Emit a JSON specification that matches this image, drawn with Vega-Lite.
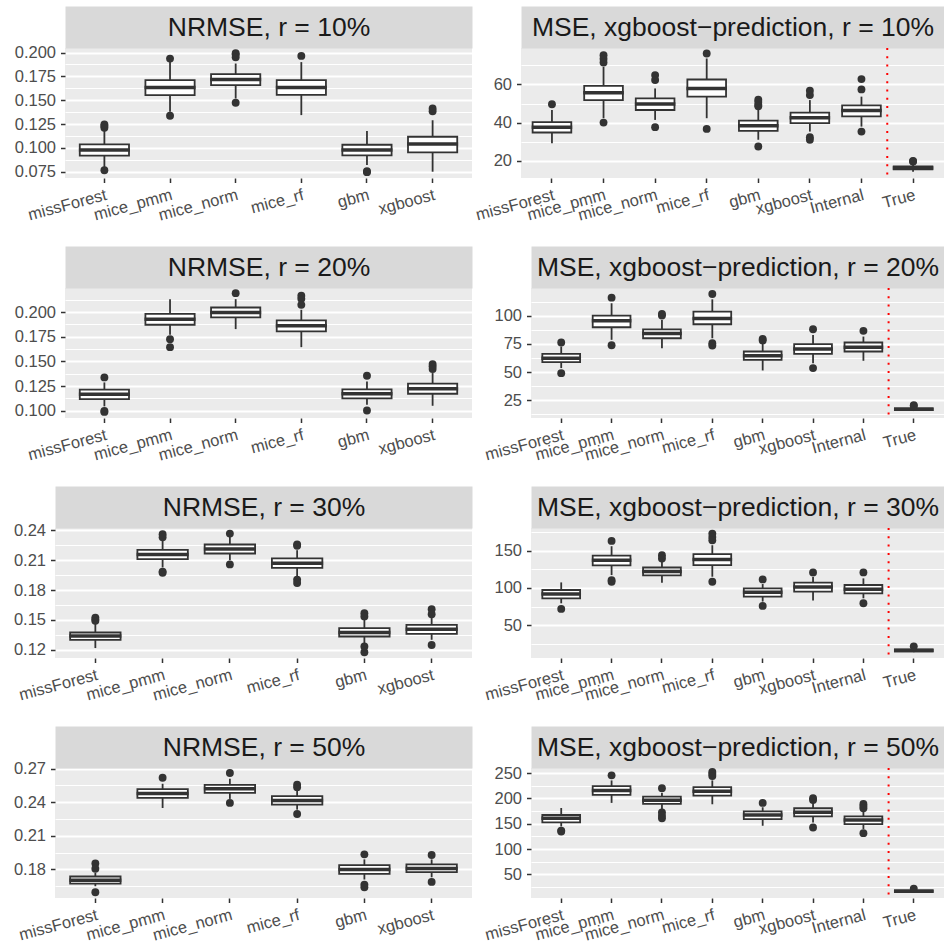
{
  "$schema": "https://vega.github.io/schema/vega-lite/v6.json",
  "padding": {"left": 0, "top": 6, "right": 0, "bottom": 0},
  "background": "white",
  "datasets": {
    "boxes": [
      {"panel":"n10","method":"missForest","lo":0.080,"q1":0.0918,"med":0.0977,"q3":0.1036,"hi":0.119},
      {"panel":"n10","method":"mice_pmm","lo":0.1378,"q1":0.1553,"med":0.1633,"q3":0.1710,"hi":0.190},
      {"panel":"n10","method":"mice_norm","lo":0.1518,"q1":0.1658,"med":0.1717,"q3":0.1773,"hi":0.1885},
      {"panel":"n10","method":"mice_rf","lo":0.1344,"q1":0.1557,"med":0.1633,"q3":0.1710,"hi":0.190},
      {"panel":"n10","method":"gbm","lo":0.082,"q1":0.0921,"med":0.0977,"q3":0.1033,"hi":0.1176},
      {"panel":"n10","method":"xgboost","lo":0.075,"q1":0.0953,"med":0.104,"q3":0.1117,"hi":0.129},
      {"panel":"m10","method":"missForest","lo":29.2,"q1":34.8,"med":37.6,"q3":40.2,"hi":46.6},
      {"panel":"m10","method":"mice_pmm","lo":42.3,"q1":51.8,"med":55.7,"q3":59.3,"hi":69.2},
      {"panel":"m10","method":"mice_norm","lo":41.4,"q1":46.6,"med":49.7,"q3":52.7,"hi":57.9},
      {"panel":"m10","method":"mice_rf","lo":42.3,"q1":53.6,"med":57.9,"q3":62.6,"hi":73.6},
      {"panel":"m10","method":"gbm","lo":31.0,"q1":35.7,"med":38.3,"q3":41.0,"hi":46.6},
      {"panel":"m10","method":"xgboost","lo":35.3,"q1":39.7,"med":42.6,"q3":45.2,"hi":51.8},
      {"panel":"m10","method":"Internal","lo":37.9,"q1":43.3,"med":46.3,"q3":49.0,"hi":53.6},
      {"panel":"m10","method":"True","lo":14.3,"q1":15.5,"med":16.2,"q3":17.0,"hi":18.6},
      {"panel":"n20","method":"missForest","lo":0.1044,"q1":0.1118,"med":0.1166,"q3":0.1213,"hi":0.1287},
      {"panel":"n20","method":"mice_pmm","lo":0.177,"q1":0.1872,"med":0.1929,"q3":0.1983,"hi":0.2132},
      {"panel":"n20","method":"mice_norm","lo":0.1828,"q1":0.1946,"med":0.1997,"q3":0.2047,"hi":0.2132},
      {"panel":"n20","method":"mice_rf","lo":0.1645,"q1":0.1804,"med":0.1861,"q3":0.1916,"hi":0.2024},
      {"panel":"n20","method":"gbm","lo":0.1061,"q1":0.1125,"med":0.1172,"q3":0.1216,"hi":0.1297},
      {"panel":"n20","method":"xgboost","lo":0.105,"q1":0.1172,"med":0.1223,"q3":0.1274,"hi":0.1382},
      {"panel":"m20","method":"missForest","lo":53.5,"q1":58.8,"med":62.3,"q3":66.2,"hi":72.7},
      {"panel":"m20","method":"mice_pmm","lo":78.7,"q1":89.9,"med":95.8,"q3":100.3,"hi":111.3},
      {"panel":"m20","method":"mice_norm","lo":71.2,"q1":80.1,"med":84.3,"q3":88.1,"hi":96.4},
      {"panel":"m20","method":"mice_rf","lo":80.1,"q1":92.6,"med":97.6,"q3":103.9,"hi":114.8},
      {"panel":"m20","method":"gbm","lo":51.4,"q1":60.9,"med":64.4,"q3":68.3,"hi":75.7},
      {"panel":"m20","method":"xgboost","lo":57.9,"q1":66.2,"med":70.6,"q3":74.8,"hi":83.1},
      {"panel":"m20","method":"Internal","lo":60.0,"q1":68.3,"med":72.1,"q3":76.3,"hi":81.6},
      {"panel":"m20","method":"True","lo":15.2,"q1":16.0,"med":16.7,"q3":17.6,"hi":18.6},
      {"panel":"n30","method":"missForest","lo":0.1217,"q1":0.130,"med":0.1337,"q3":0.1373,"hi":0.1467},
      {"panel":"n30","method":"mice_pmm","lo":0.2027,"q1":0.211,"med":0.2157,"q3":0.2203,"hi":0.230},
      {"panel":"n30","method":"mice_norm","lo":0.210,"q1":0.2167,"med":0.2213,"q3":0.2257,"hi":0.2333},
      {"panel":"n30","method":"mice_rf","lo":0.1933,"q1":0.2023,"med":0.207,"q3":0.2117,"hi":0.220},
      {"panel":"n30","method":"gbm","lo":0.125,"q1":0.1333,"med":0.1373,"q3":0.1417,"hi":0.150},
      {"panel":"n30","method":"xgboost","lo":0.130,"q1":0.136,"med":0.1407,"q3":0.145,"hi":0.1533},
      {"panel":"m30","method":"missForest","lo":79.3,"q1":86.0,"med":91.8,"q3":97.1,"hi":107.3},
      {"panel":"m30","method":"mice_pmm","lo":117.1,"q1":130.0,"med":137.1,"q3":143.3,"hi":155.8},
      {"panel":"m30","method":"mice_norm","lo":106.9,"q1":116.7,"med":122.0,"q3":127.3,"hi":137.1},
      {"panel":"m30","method":"mice_rf","lo":114.9,"q1":130.4,"med":138.0,"q3":145.1,"hi":157.1},
      {"panel":"m30","method":"gbm","lo":81.6,"q1":88.2,"med":94.0,"q3":99.3,"hi":105.1},
      {"panel":"m30","method":"xgboost","lo":82.9,"q1":94.9,"med":101.1,"q3":106.9,"hi":114.9},
      {"panel":"m30","method":"Internal","lo":86.0,"q1":92.7,"med":98.0,"q3":103.8,"hi":112.7},
      {"panel":"m30","method":"True","lo":13.8,"q1":15.0,"med":16.2,"q3":17.5,"hi":19.0},
      {"panel":"n50","method":"missForest","lo":0.165,"q1":0.1674,"med":0.1704,"q3":0.1737,"hi":0.177},
      {"panel":"n50","method":"mice_pmm","lo":0.2349,"q1":0.2439,"med":0.2478,"q3":0.2517,"hi":0.2565},
      {"panel":"n50","method":"mice_norm","lo":0.243,"q1":0.2484,"med":0.252,"q3":0.2556,"hi":0.261},
      {"panel":"n50","method":"mice_rf","lo":0.2334,"q1":0.2379,"med":0.2415,"q3":0.2454,"hi":0.2505},
      {"panel":"n50","method":"gbm","lo":0.171,"q1":0.1761,"med":0.180,"q3":0.1839,"hi":0.189},
      {"panel":"n50","method":"xgboost","lo":0.173,"q1":0.1776,"med":0.1809,"q3":0.1845,"hi":0.189},
      {"panel":"m50","method":"missForest","lo":144.7,"q1":152.6,"med":160.6,"q3":167.2,"hi":181.1},
      {"panel":"m50","method":"mice_pmm","lo":191.1,"q1":207.0,"med":215.6,"q3":224.2,"hi":235.4},
      {"panel":"m50","method":"mice_norm","lo":179.1,"q1":189.1,"med":196.4,"q3":203.6,"hi":210.9},
      {"panel":"m50","method":"mice_rf","lo":188.4,"q1":205.6,"med":214.2,"q3":222.2,"hi":235.4},
      {"panel":"m50","method":"gbm","lo":146.0,"q1":159.3,"med":167.2,"q3":174.5,"hi":182.5},
      {"panel":"m50","method":"xgboost","lo":152.6,"q1":164.6,"med":172.5,"q3":180.5,"hi":191.1},
      {"panel":"m50","method":"Internal","lo":139.4,"q1":149.3,"med":157.3,"q3":164.6,"hi":176.5},
      {"panel":"m50","method":"True","lo":13.5,"q1":15.5,"med":17.0,"q3":18.5,"hi":20.5}
    ],
    "outliers": [
      {"panel":"n10","method":"missForest","value":0.0765},{"panel":"n10","method":"missForest","value":0.121},{"panel":"n10","method":"missForest","value":0.123},{"panel":"n10","method":"missForest","value":0.1245},
      {"panel":"n10","method":"mice_pmm","value":0.1937},{"panel":"n10","method":"mice_pmm","value":0.1337},
      {"panel":"n10","method":"mice_norm","value":0.1993},{"panel":"n10","method":"mice_norm","value":0.1979},{"panel":"n10","method":"mice_norm","value":0.195},{"panel":"n10","method":"mice_norm","value":0.1473},
      {"panel":"n10","method":"mice_rf","value":0.1965},
      {"panel":"n10","method":"gbm","value":0.0755},{"panel":"n10","method":"gbm","value":0.0745},
      {"panel":"n10","method":"xgboost","value":0.1414},{"panel":"n10","method":"xgboost","value":0.1385},
      {"panel":"m10","method":"missForest","value":49.6},
      {"panel":"m10","method":"mice_pmm","value":75.3},{"panel":"m10","method":"mice_pmm","value":73.4},{"panel":"m10","method":"mice_pmm","value":71.5},{"panel":"m10","method":"mice_pmm","value":40.0},
      {"panel":"m10","method":"mice_norm","value":64.9},{"panel":"m10","method":"mice_norm","value":62.3},{"panel":"m10","method":"mice_norm","value":37.6},
      {"panel":"m10","method":"mice_rf","value":76.2},{"panel":"m10","method":"mice_rf","value":36.7},
      {"panel":"m10","method":"gbm","value":52.0},{"panel":"m10","method":"gbm","value":50.8},{"panel":"m10","method":"gbm","value":49.3},{"panel":"m10","method":"gbm","value":48.6},{"panel":"m10","method":"gbm","value":27.5},
      {"panel":"m10","method":"xgboost","value":56.7},{"panel":"m10","method":"xgboost","value":54.4},{"panel":"m10","method":"xgboost","value":32.3},{"panel":"m10","method":"xgboost","value":31.0},
      {"panel":"m10","method":"Internal","value":62.8},{"panel":"m10","method":"Internal","value":57.4},{"panel":"m10","method":"Internal","value":35.3},
      {"panel":"m10","method":"True","value":19.6},{"panel":"m10","method":"True","value":19.9},
      {"panel":"n20","method":"missForest","value":0.1338},{"panel":"n20","method":"missForest","value":0.0998},{"panel":"n20","method":"missForest","value":0.0988},
      {"panel":"n20","method":"mice_pmm","value":0.1726},{"panel":"n20","method":"mice_pmm","value":0.1645},
      {"panel":"n20","method":"mice_norm","value":0.2193},
      {"panel":"n20","method":"mice_rf","value":0.2166},{"panel":"n20","method":"mice_rf","value":0.2135},{"panel":"n20","method":"mice_rf","value":0.2074},
      {"panel":"n20","method":"gbm","value":0.1355},{"panel":"n20","method":"gbm","value":0.1002},
      {"panel":"n20","method":"xgboost","value":0.1473},{"panel":"n20","method":"xgboost","value":0.145},{"panel":"n20","method":"xgboost","value":0.1422},
      {"panel":"m20","method":"missForest","value":76.3},{"panel":"m20","method":"missForest","value":49.0},
      {"panel":"m20","method":"mice_pmm","value":116.3},{"panel":"m20","method":"mice_pmm","value":73.9},
      {"panel":"m20","method":"mice_norm","value":101.8},{"panel":"m20","method":"mice_norm","value":100.4},
      {"panel":"m20","method":"mice_rf","value":119.6},{"panel":"m20","method":"mice_rf","value":75.6},{"panel":"m20","method":"mice_rf","value":73.6},
      {"panel":"m20","method":"gbm","value":79.5},{"panel":"m20","method":"gbm","value":78.2},
      {"panel":"m20","method":"xgboost","value":88.1},{"panel":"m20","method":"xgboost","value":53.5},
      {"panel":"m20","method":"Internal","value":86.7},
      {"panel":"m20","method":"True","value":20.4},{"panel":"m20","method":"True","value":19.8},
      {"panel":"n30","method":"missForest","value":0.1523},{"panel":"n30","method":"missForest","value":0.1505},{"panel":"n30","method":"missForest","value":0.149},
      {"panel":"n30","method":"mice_pmm","value":0.236},{"panel":"n30","method":"mice_pmm","value":0.233},{"panel":"n30","method":"mice_pmm","value":0.1985},{"panel":"n30","method":"mice_pmm","value":0.1973},
      {"panel":"n30","method":"mice_norm","value":0.2367},{"panel":"n30","method":"mice_norm","value":0.2057},
      {"panel":"n30","method":"mice_rf","value":0.2257},{"panel":"n30","method":"mice_rf","value":0.2245},{"panel":"n30","method":"mice_rf","value":0.1905},{"panel":"n30","method":"mice_rf","value":0.187},
      {"panel":"n30","method":"gbm","value":0.1567},{"panel":"n30","method":"gbm","value":0.1535},{"panel":"n30","method":"gbm","value":0.1233},{"panel":"n30","method":"gbm","value":0.1175},
      {"panel":"n30","method":"xgboost","value":0.1607},{"panel":"n30","method":"xgboost","value":0.1557},{"panel":"n30","method":"xgboost","value":0.1247},
      {"panel":"m30","method":"missForest","value":71.8},
      {"panel":"m30","method":"mice_pmm","value":162.9},{"panel":"m30","method":"mice_pmm","value":110.4},{"panel":"m30","method":"mice_pmm","value":108.2},
      {"panel":"m30","method":"mice_norm","value":143.8},{"panel":"m30","method":"mice_norm","value":139.3},
      {"panel":"m30","method":"mice_rf","value":172.7},{"panel":"m30","method":"mice_rf","value":168.0},{"panel":"m30","method":"mice_rf","value":163.8},{"panel":"m30","method":"mice_rf","value":108.2},
      {"panel":"m30","method":"gbm","value":111.3},{"panel":"m30","method":"gbm","value":75.8},
      {"panel":"m30","method":"xgboost","value":120.7},
      {"panel":"m30","method":"Internal","value":120.7},{"panel":"m30","method":"Internal","value":79.3},
      {"panel":"m30","method":"True","value":21.6},
      {"panel":"n50","method":"missForest","value":0.1854},{"panel":"n50","method":"missForest","value":0.1806},{"panel":"n50","method":"missForest","value":0.1596},
      {"panel":"n50","method":"mice_pmm","value":0.2619},
      {"panel":"n50","method":"mice_norm","value":0.2661},{"panel":"n50","method":"mice_norm","value":0.2394},
      {"panel":"n50","method":"mice_rf","value":0.2556},{"panel":"n50","method":"mice_rf","value":0.2535},{"panel":"n50","method":"mice_rf","value":0.2295},
      {"panel":"n50","method":"gbm","value":0.1935},{"panel":"n50","method":"gbm","value":0.1665},{"panel":"n50","method":"gbm","value":0.164},
      {"panel":"n50","method":"xgboost","value":0.1929},{"panel":"n50","method":"xgboost","value":0.1689},
      {"panel":"m50","method":"missForest","value":136.5},{"panel":"m50","method":"missForest","value":134.8},
      {"panel":"m50","method":"mice_pmm","value":245.4},
      {"panel":"m50","method":"mice_norm","value":220.2},{"panel":"m50","method":"mice_norm","value":172.5},{"panel":"m50","method":"mice_norm","value":166.0},{"panel":"m50","method":"mice_norm","value":160.6},
      {"panel":"m50","method":"mice_rf","value":252.0},{"panel":"m50","method":"mice_rf","value":248.0},{"panel":"m50","method":"mice_rf","value":244.0},
      {"panel":"m50","method":"gbm","value":191.1},
      {"panel":"m50","method":"xgboost","value":200.3},{"panel":"m50","method":"xgboost","value":197.0},{"panel":"m50","method":"xgboost","value":142.7},
      {"panel":"m50","method":"Internal","value":189.1},{"panel":"m50","method":"Internal","value":185.0},{"panel":"m50","method":"Internal","value":180.5},{"panel":"m50","method":"Internal","value":131.5},
      {"panel":"m50","method":"True","value":22.2}
    ]
  },
  "spacing": 20,
  "vconcat": [
    {"spacing": -1, "hconcat": [
      {"width": 1, "height": 130, "view": {"fill": null, "stroke": null}, "data": {"values": []}, "mark": "point"},
      {"width": 407, "height": 130, "resolve": {"axis": {"x": "independent", "y": "independent"}},
       "layer": [
        {"data": {"name": "boxes"}, "transform": [{"filter": "datum.panel === 'n10'"}],
         "mark": {"type": "rule", "color": "#333333", "strokeWidth": 1.8},
         "encoding": {
          "x": {"field": "method", "type": "nominal", "scale": {"type": "band", "domain": ["missForest","mice_pmm","mice_norm","mice_rf","gbm","xgboost"], "paddingInner": 0, "paddingOuter": 0.1}, "axis": {"orient": "top", "title": "NRMSE, r = 10%"}},
          "y": {"field": "lo", "type": "quantitative", "title": null, "scale": {"domain": [0.0684, 0.2048], "nice": false, "zero": false},
                "axis": {"orient": "left", "values": [0.0875,0.1125,0.1375,0.1625,0.1875], "labels": false, "ticks": false, "domain": false, "grid": true, "gridWidth": 1, "minExtent": 0, "maxExtent": 0}},
          "y2": {"field": "hi"}}},
        {"data": {"name": "boxes"}, "transform": [{"filter": "datum.panel === 'n10'"}],
         "mark": {"type": "bar", "fill": "#FFFFFF", "stroke": "#333333", "strokeWidth": 1.8, "width": {"band": 0.75}},
         "encoding": {
          "x": {"field": "method", "type": "nominal", "title": null, "scale": {"type": "band", "domain": ["missForest","mice_pmm","mice_norm","mice_rf","gbm","xgboost"], "paddingInner": 0, "paddingOuter": 0.1}, "axis": {"orient": "bottom", "labelOverlap": false}},
          "y": {"field": "q1", "type": "quantitative", "title": null, "scale": {"domain": [0.0684, 0.2048], "nice": false, "zero": false},
                "axis": {"orient": "left", "minExtent": 65, "labelOverlap": false, "labelSeparation": -30, "values": [0.075,0.1,0.125,0.15,0.175,0.2], "format": ".3f", "grid": true, "gridWidth": 2}},
          "y2": {"field": "q3"}}},
        {"data": {"name": "boxes"}, "transform": [{"filter": "datum.panel === 'n10'"}],
         "mark": {"type": "tick", "color": "#333333", "thickness": 3.5, "size": 51, "opacity": 1},
         "encoding": {
          "x": {"field": "method", "type": "nominal", "axis": null, "scale": {"type": "band", "domain": ["missForest","mice_pmm","mice_norm","mice_rf","gbm","xgboost"], "paddingInner": 0, "paddingOuter": 0.1}},
          "y": {"field": "med", "type": "quantitative", "title": null, "axis": null, "scale": {"domain": [0.0684, 0.2048], "nice": false, "zero": false}}}},
        {"data": {"name": "outliers"}, "transform": [{"filter": "datum.panel === 'n10'"}],
         "mark": {"type": "circle", "size": 62, "color": "#333333", "opacity": 1},
         "encoding": {
          "x": {"field": "method", "type": "nominal", "axis": null, "scale": {"type": "band", "domain": ["missForest","mice_pmm","mice_norm","mice_rf","gbm","xgboost"], "paddingInner": 0, "paddingOuter": 0.1}},
          "y": {"field": "value", "type": "quantitative", "title": null, "axis": null, "scale": {"domain": [0.0684, 0.2048], "nice": false, "zero": false}}}}
       ]},
      {"width": 423, "height": 130, "resolve": {"axis": {"x": "independent", "y": "independent"}},
       "layer": [
        {"data": {"name": "boxes"}, "transform": [{"filter": "datum.panel === 'm10'"}],
         "mark": {"type": "rule", "color": "#333333", "strokeWidth": 1.8},
         "encoding": {
          "x": {"field": "method", "type": "nominal", "scale": {"type": "band", "domain": ["missForest","mice_pmm","mice_norm","mice_rf","gbm","xgboost","Internal","True"], "paddingInner": 0, "paddingOuter": 0.1}, "axis": {"orient": "top", "title": "MSE, xgboost−prediction, r = 10%"}},
          "y": {"field": "lo", "type": "quantitative", "title": null, "scale": {"domain": [10.96, 79.1], "nice": false, "zero": false},
                "axis": {"orient": "left", "values": [30,50,70], "labels": false, "ticks": false, "domain": false, "grid": true, "gridWidth": 1, "minExtent": 0, "maxExtent": 0}},
          "y2": {"field": "hi"}}},
        {"data": {"name": "boxes"}, "transform": [{"filter": "datum.panel === 'm10'"}],
         "mark": {"type": "bar", "fill": "#FFFFFF", "stroke": "#333333", "strokeWidth": 1.8, "width": {"band": 0.75}},
         "encoding": {
          "x": {"field": "method", "type": "nominal", "title": null, "scale": {"type": "band", "domain": ["missForest","mice_pmm","mice_norm","mice_rf","gbm","xgboost","Internal","True"], "paddingInner": 0, "paddingOuter": 0.1}, "axis": {"orient": "bottom", "labelOverlap": false}},
          "y": {"field": "q1", "type": "quantitative", "title": null, "scale": {"domain": [10.96, 79.1], "nice": false, "zero": false},
                "axis": {"orient": "left", "minExtent": 50, "labelOverlap": false, "labelSeparation": -30, "values": [20,40,60], "format": "d", "grid": true, "gridWidth": 2}},
          "y2": {"field": "q3"}}},
        {"data": {"name": "boxes"}, "transform": [{"filter": "datum.panel === 'm10'"}],
         "mark": {"type": "tick", "color": "#333333", "thickness": 3.5, "size": 40.5, "opacity": 1},
         "encoding": {
          "x": {"field": "method", "type": "nominal", "axis": null, "scale": {"type": "band", "domain": ["missForest","mice_pmm","mice_norm","mice_rf","gbm","xgboost","Internal","True"], "paddingInner": 0, "paddingOuter": 0.1}},
          "y": {"field": "med", "type": "quantitative", "title": null, "axis": null, "scale": {"domain": [10.96, 79.1], "nice": false, "zero": false}}}},
        {"data": {"name": "outliers"}, "transform": [{"filter": "datum.panel === 'm10'"}],
         "mark": {"type": "circle", "size": 62, "color": "#333333", "opacity": 1},
         "encoding": {
          "x": {"field": "method", "type": "nominal", "axis": null, "scale": {"type": "band", "domain": ["missForest","mice_pmm","mice_norm","mice_rf","gbm","xgboost","Internal","True"], "paddingInner": 0, "paddingOuter": 0.1}},
          "y": {"field": "value", "type": "quantitative", "title": null, "axis": null, "scale": {"domain": [10.96, 79.1], "nice": false, "zero": false}}}},
        {"data": {"values": [{"method": "Internal"}]},
         "mark": {"type": "rule", "color": "#FF0000", "strokeWidth": 2, "strokeDash": [2, 6.3]},
         "encoding": {
          "x": {"field": "method", "type": "nominal", "axis": null, "bandPosition": 1, "scale": {"type": "band", "domain": ["missForest","mice_pmm","mice_norm","mice_rf","gbm","xgboost","Internal","True"], "paddingInner": 0, "paddingOuter": 0.1}}}}
       ]}
    ]},
    {"spacing": -1, "hconcat": [
      {"width": 1, "height": 130, "view": {"fill": null, "stroke": null}, "data": {"values": []}, "mark": "point"},
      {"width": 407, "height": 130, "resolve": {"axis": {"x": "independent", "y": "independent"}},
       "layer": [
        {"data": {"name": "boxes"}, "transform": [{"filter": "datum.panel === 'n20'"}],
         "mark": {"type": "rule", "color": "#333333", "strokeWidth": 1.8},
         "encoding": {
          "x": {"field": "method", "type": "nominal", "scale": {"type": "band", "domain": ["missForest","mice_pmm","mice_norm","mice_rf","gbm","xgboost"], "paddingInner": 0, "paddingOuter": 0.1}, "axis": {"orient": "top", "title": "NRMSE, r = 20%"}},
          "y": {"field": "lo", "type": "quantitative", "title": null, "scale": {"domain": [0.0926, 0.2245], "nice": false, "zero": false},
                "axis": {"orient": "left", "values": [0.1125,0.1375,0.1625,0.1875,0.2125], "labels": false, "ticks": false, "domain": false, "grid": true, "gridWidth": 1, "minExtent": 0, "maxExtent": 0}},
          "y2": {"field": "hi"}}},
        {"data": {"name": "boxes"}, "transform": [{"filter": "datum.panel === 'n20'"}],
         "mark": {"type": "bar", "fill": "#FFFFFF", "stroke": "#333333", "strokeWidth": 1.8, "width": {"band": 0.75}},
         "encoding": {
          "x": {"field": "method", "type": "nominal", "title": null, "scale": {"type": "band", "domain": ["missForest","mice_pmm","mice_norm","mice_rf","gbm","xgboost"], "paddingInner": 0, "paddingOuter": 0.1}, "axis": {"orient": "bottom", "labelOverlap": false}},
          "y": {"field": "q1", "type": "quantitative", "title": null, "scale": {"domain": [0.0926, 0.2245], "nice": false, "zero": false},
                "axis": {"orient": "left", "minExtent": 65, "labelOverlap": false, "labelSeparation": -30, "values": [0.1,0.125,0.15,0.175,0.2], "format": ".3f", "grid": true, "gridWidth": 2}},
          "y2": {"field": "q3"}}},
        {"data": {"name": "boxes"}, "transform": [{"filter": "datum.panel === 'n20'"}],
         "mark": {"type": "tick", "color": "#333333", "thickness": 3.5, "size": 51, "opacity": 1},
         "encoding": {
          "x": {"field": "method", "type": "nominal", "axis": null, "scale": {"type": "band", "domain": ["missForest","mice_pmm","mice_norm","mice_rf","gbm","xgboost"], "paddingInner": 0, "paddingOuter": 0.1}},
          "y": {"field": "med", "type": "quantitative", "title": null, "axis": null, "scale": {"domain": [0.0926, 0.2245], "nice": false, "zero": false}}}},
        {"data": {"name": "outliers"}, "transform": [{"filter": "datum.panel === 'n20'"}],
         "mark": {"type": "circle", "size": 62, "color": "#333333", "opacity": 1},
         "encoding": {
          "x": {"field": "method", "type": "nominal", "axis": null, "scale": {"type": "band", "domain": ["missForest","mice_pmm","mice_norm","mice_rf","gbm","xgboost"], "paddingInner": 0, "paddingOuter": 0.1}},
          "y": {"field": "value", "type": "quantitative", "title": null, "axis": null, "scale": {"domain": [0.0926, 0.2245], "nice": false, "zero": false}}}}
       ]},
      {"width": 413, "height": 130, "resolve": {"axis": {"x": "independent", "y": "independent"}},
       "layer": [
        {"data": {"name": "boxes"}, "transform": [{"filter": "datum.panel === 'm20'"}],
         "mark": {"type": "rule", "color": "#333333", "strokeWidth": 1.8},
         "encoding": {
          "x": {"field": "method", "type": "nominal", "scale": {"type": "band", "domain": ["missForest","mice_pmm","mice_norm","mice_rf","gbm","xgboost","Internal","True"], "paddingInner": 0, "paddingOuter": 0.1}, "axis": {"orient": "top", "title": "MSE, xgboost−prediction, r = 20%"}},
          "y": {"field": "lo", "type": "quantitative", "title": null, "scale": {"domain": [9.0, 124.9], "nice": false, "zero": false},
                "axis": {"orient": "left", "values": [12.5,37.5,62.5,87.5,112.5], "labels": false, "ticks": false, "domain": false, "grid": true, "gridWidth": 1, "minExtent": 0, "maxExtent": 0}},
          "y2": {"field": "hi"}}},
        {"data": {"name": "boxes"}, "transform": [{"filter": "datum.panel === 'm20'"}],
         "mark": {"type": "bar", "fill": "#FFFFFF", "stroke": "#333333", "strokeWidth": 1.8, "width": {"band": 0.75}},
         "encoding": {
          "x": {"field": "method", "type": "nominal", "title": null, "scale": {"type": "band", "domain": ["missForest","mice_pmm","mice_norm","mice_rf","gbm","xgboost","Internal","True"], "paddingInner": 0, "paddingOuter": 0.1}, "axis": {"orient": "bottom", "labelOverlap": false}},
          "y": {"field": "q1", "type": "quantitative", "title": null, "scale": {"domain": [9.0, 124.9], "nice": false, "zero": false},
                "axis": {"orient": "left", "minExtent": 60, "labelOverlap": false, "labelSeparation": -30, "values": [25,50,75,100], "format": "d", "grid": true, "gridWidth": 2}},
          "y2": {"field": "q3"}}},
        {"data": {"name": "boxes"}, "transform": [{"filter": "datum.panel === 'm20'"}],
         "mark": {"type": "tick", "color": "#333333", "thickness": 3.5, "size": 39.6, "opacity": 1},
         "encoding": {
          "x": {"field": "method", "type": "nominal", "axis": null, "scale": {"type": "band", "domain": ["missForest","mice_pmm","mice_norm","mice_rf","gbm","xgboost","Internal","True"], "paddingInner": 0, "paddingOuter": 0.1}},
          "y": {"field": "med", "type": "quantitative", "title": null, "axis": null, "scale": {"domain": [9.0, 124.9], "nice": false, "zero": false}}}},
        {"data": {"name": "outliers"}, "transform": [{"filter": "datum.panel === 'm20'"}],
         "mark": {"type": "circle", "size": 62, "color": "#333333", "opacity": 1},
         "encoding": {
          "x": {"field": "method", "type": "nominal", "axis": null, "scale": {"type": "band", "domain": ["missForest","mice_pmm","mice_norm","mice_rf","gbm","xgboost","Internal","True"], "paddingInner": 0, "paddingOuter": 0.1}},
          "y": {"field": "value", "type": "quantitative", "title": null, "axis": null, "scale": {"domain": [9.0, 124.9], "nice": false, "zero": false}}}},
        {"data": {"values": [{"method": "Internal"}]},
         "mark": {"type": "rule", "color": "#FF0000", "strokeWidth": 2, "strokeDash": [2, 6.3]},
         "encoding": {
          "x": {"field": "method", "type": "nominal", "axis": null, "bandPosition": 1, "scale": {"type": "band", "domain": ["missForest","mice_pmm","mice_norm","mice_rf","gbm","xgboost","Internal","True"], "paddingInner": 0, "paddingOuter": 0.1}}}}
       ]}
    ]},
    {"spacing": -1, "hconcat": [
      {"width": 1, "height": 130, "view": {"fill": null, "stroke": null}, "data": {"values": []}, "mark": "point"},
      {"width": 417, "height": 130, "resolve": {"axis": {"x": "independent", "y": "independent"}},
       "layer": [
        {"data": {"name": "boxes"}, "transform": [{"filter": "datum.panel === 'n30'"}],
         "mark": {"type": "rule", "color": "#333333", "strokeWidth": 1.8},
         "encoding": {
          "x": {"field": "method", "type": "nominal", "scale": {"type": "band", "domain": ["missForest","mice_pmm","mice_norm","mice_rf","gbm","xgboost"], "paddingInner": 0, "paddingOuter": 0.1}, "axis": {"orient": "top", "title": "NRMSE, r = 30%"}},
          "y": {"field": "lo", "type": "quantitative", "title": null, "scale": {"domain": [0.1117, 0.2423], "nice": false, "zero": false},
                "axis": {"orient": "left", "values": [0.135,0.165,0.195,0.225], "labels": false, "ticks": false, "domain": false, "grid": true, "gridWidth": 1, "minExtent": 0, "maxExtent": 0}},
          "y2": {"field": "hi"}}},
        {"data": {"name": "boxes"}, "transform": [{"filter": "datum.panel === 'n30'"}],
         "mark": {"type": "bar", "fill": "#FFFFFF", "stroke": "#333333", "strokeWidth": 1.8, "width": {"band": 0.75}},
         "encoding": {
          "x": {"field": "method", "type": "nominal", "title": null, "scale": {"type": "band", "domain": ["missForest","mice_pmm","mice_norm","mice_rf","gbm","xgboost"], "paddingInner": 0, "paddingOuter": 0.1}, "axis": {"orient": "bottom", "labelOverlap": false}},
          "y": {"field": "q1", "type": "quantitative", "title": null, "scale": {"domain": [0.1117, 0.2423], "nice": false, "zero": false},
                "axis": {"orient": "left", "minExtent": 55, "labelOverlap": false, "labelSeparation": -30, "values": [0.12,0.15,0.18,0.21,0.24], "format": ".2f", "grid": true, "gridWidth": 2}},
          "y2": {"field": "q3"}}},
        {"data": {"name": "boxes"}, "transform": [{"filter": "datum.panel === 'n30'"}],
         "mark": {"type": "tick", "color": "#333333", "thickness": 3.5, "size": 52, "opacity": 1},
         "encoding": {
          "x": {"field": "method", "type": "nominal", "axis": null, "scale": {"type": "band", "domain": ["missForest","mice_pmm","mice_norm","mice_rf","gbm","xgboost"], "paddingInner": 0, "paddingOuter": 0.1}},
          "y": {"field": "med", "type": "quantitative", "title": null, "axis": null, "scale": {"domain": [0.1117, 0.2423], "nice": false, "zero": false}}}},
        {"data": {"name": "outliers"}, "transform": [{"filter": "datum.panel === 'n30'"}],
         "mark": {"type": "circle", "size": 62, "color": "#333333", "opacity": 1},
         "encoding": {
          "x": {"field": "method", "type": "nominal", "axis": null, "scale": {"type": "band", "domain": ["missForest","mice_pmm","mice_norm","mice_rf","gbm","xgboost"], "paddingInner": 0, "paddingOuter": 0.1}},
          "y": {"field": "value", "type": "quantitative", "title": null, "axis": null, "scale": {"domain": [0.1117, 0.2423], "nice": false, "zero": false}}}}
       ]},
      {"width": 413, "height": 130, "resolve": {"axis": {"x": "independent", "y": "independent"}},
       "layer": [
        {"data": {"name": "boxes"}, "transform": [{"filter": "datum.panel === 'm30'"}],
         "mark": {"type": "rule", "color": "#333333", "strokeWidth": 1.8},
         "encoding": {
          "x": {"field": "method", "type": "nominal", "scale": {"type": "band", "domain": ["missForest","mice_pmm","mice_norm","mice_rf","gbm","xgboost","Internal","True"], "paddingInner": 0, "paddingOuter": 0.1}, "axis": {"orient": "top", "title": "MSE, xgboost−prediction, r = 30%"}},
          "y": {"field": "lo", "type": "quantitative", "title": null, "scale": {"domain": [6.0, 180.2], "nice": false, "zero": false},
                "axis": {"orient": "left", "values": [25,75,125,175], "labels": false, "ticks": false, "domain": false, "grid": true, "gridWidth": 1, "minExtent": 0, "maxExtent": 0}},
          "y2": {"field": "hi"}}},
        {"data": {"name": "boxes"}, "transform": [{"filter": "datum.panel === 'm30'"}],
         "mark": {"type": "bar", "fill": "#FFFFFF", "stroke": "#333333", "strokeWidth": 1.8, "width": {"band": 0.75}},
         "encoding": {
          "x": {"field": "method", "type": "nominal", "title": null, "scale": {"type": "band", "domain": ["missForest","mice_pmm","mice_norm","mice_rf","gbm","xgboost","Internal","True"], "paddingInner": 0, "paddingOuter": 0.1}, "axis": {"orient": "bottom", "labelOverlap": false}},
          "y": {"field": "q1", "type": "quantitative", "title": null, "scale": {"domain": [6.0, 180.2], "nice": false, "zero": false},
                "axis": {"orient": "left", "minExtent": 60, "labelOverlap": false, "labelSeparation": -30, "values": [50,100,150], "format": "d", "grid": true, "gridWidth": 2}},
          "y2": {"field": "q3"}}},
        {"data": {"name": "boxes"}, "transform": [{"filter": "datum.panel === 'm30'"}],
         "mark": {"type": "tick", "color": "#333333", "thickness": 3.5, "size": 39.6, "opacity": 1},
         "encoding": {
          "x": {"field": "method", "type": "nominal", "axis": null, "scale": {"type": "band", "domain": ["missForest","mice_pmm","mice_norm","mice_rf","gbm","xgboost","Internal","True"], "paddingInner": 0, "paddingOuter": 0.1}},
          "y": {"field": "med", "type": "quantitative", "title": null, "axis": null, "scale": {"domain": [6.0, 180.2], "nice": false, "zero": false}}}},
        {"data": {"name": "outliers"}, "transform": [{"filter": "datum.panel === 'm30'"}],
         "mark": {"type": "circle", "size": 62, "color": "#333333", "opacity": 1},
         "encoding": {
          "x": {"field": "method", "type": "nominal", "axis": null, "scale": {"type": "band", "domain": ["missForest","mice_pmm","mice_norm","mice_rf","gbm","xgboost","Internal","True"], "paddingInner": 0, "paddingOuter": 0.1}},
          "y": {"field": "value", "type": "quantitative", "title": null, "axis": null, "scale": {"domain": [6.0, 180.2], "nice": false, "zero": false}}}},
        {"data": {"values": [{"method": "Internal"}]},
         "mark": {"type": "rule", "color": "#FF0000", "strokeWidth": 2, "strokeDash": [2, 6.3]},
         "encoding": {
          "x": {"field": "method", "type": "nominal", "axis": null, "bandPosition": 1, "scale": {"type": "band", "domain": ["missForest","mice_pmm","mice_norm","mice_rf","gbm","xgboost","Internal","True"], "paddingInner": 0, "paddingOuter": 0.1}}}}
       ]}
    ]},
    {"spacing": -1, "hconcat": [
      {"width": 1, "height": 130, "view": {"fill": null, "stroke": null}, "data": {"values": []}, "mark": "point"},
      {"width": 417, "height": 130, "resolve": {"axis": {"x": "independent", "y": "independent"}},
       "layer": [
        {"data": {"name": "boxes"}, "transform": [{"filter": "datum.panel === 'n50'"}],
         "mark": {"type": "rule", "color": "#333333", "strokeWidth": 1.8},
         "encoding": {
          "x": {"field": "method", "type": "nominal", "scale": {"type": "band", "domain": ["missForest","mice_pmm","mice_norm","mice_rf","gbm","xgboost"], "paddingInner": 0, "paddingOuter": 0.1}, "axis": {"orient": "top", "title": "NRMSE, r = 50%"}},
          "y": {"field": "lo", "type": "quantitative", "title": null, "scale": {"domain": [0.1545, 0.2706], "nice": false, "zero": false},
                "axis": {"orient": "left", "values": [0.165,0.195,0.225,0.255], "labels": false, "ticks": false, "domain": false, "grid": true, "gridWidth": 1, "minExtent": 0, "maxExtent": 0}},
          "y2": {"field": "hi"}}},
        {"data": {"name": "boxes"}, "transform": [{"filter": "datum.panel === 'n50'"}],
         "mark": {"type": "bar", "fill": "#FFFFFF", "stroke": "#333333", "strokeWidth": 1.8, "width": {"band": 0.75}},
         "encoding": {
          "x": {"field": "method", "type": "nominal", "title": null, "scale": {"type": "band", "domain": ["missForest","mice_pmm","mice_norm","mice_rf","gbm","xgboost"], "paddingInner": 0, "paddingOuter": 0.1}, "axis": {"orient": "bottom", "labelOverlap": false}},
          "y": {"field": "q1", "type": "quantitative", "title": null, "scale": {"domain": [0.1545, 0.2706], "nice": false, "zero": false},
                "axis": {"orient": "left", "minExtent": 55, "labelOverlap": false, "labelSeparation": -30, "values": [0.18,0.21,0.24,0.27], "format": ".2f", "grid": true, "gridWidth": 2}},
          "y2": {"field": "q3"}}},
        {"data": {"name": "boxes"}, "transform": [{"filter": "datum.panel === 'n50'"}],
         "mark": {"type": "tick", "color": "#333333", "thickness": 3.5, "size": 52, "opacity": 1},
         "encoding": {
          "x": {"field": "method", "type": "nominal", "axis": null, "scale": {"type": "band", "domain": ["missForest","mice_pmm","mice_norm","mice_rf","gbm","xgboost"], "paddingInner": 0, "paddingOuter": 0.1}},
          "y": {"field": "med", "type": "quantitative", "title": null, "axis": null, "scale": {"domain": [0.1545, 0.2706], "nice": false, "zero": false}}}},
        {"data": {"name": "outliers"}, "transform": [{"filter": "datum.panel === 'n50'"}],
         "mark": {"type": "circle", "size": 62, "color": "#333333", "opacity": 1},
         "encoding": {
          "x": {"field": "method", "type": "nominal", "axis": null, "scale": {"type": "band", "domain": ["missForest","mice_pmm","mice_norm","mice_rf","gbm","xgboost"], "paddingInner": 0, "paddingOuter": 0.1}},
          "y": {"field": "value", "type": "quantitative", "title": null, "axis": null, "scale": {"domain": [0.1545, 0.2706], "nice": false, "zero": false}}}}
       ]},
      {"width": 413, "height": 130, "resolve": {"axis": {"x": "independent", "y": "independent"}},
       "layer": [
        {"data": {"name": "boxes"}, "transform": [{"filter": "datum.panel === 'm50'"}],
         "mark": {"type": "rule", "color": "#333333", "strokeWidth": 1.8},
         "encoding": {
          "x": {"field": "method", "type": "nominal", "scale": {"type": "band", "domain": ["missForest","mice_pmm","mice_norm","mice_rf","gbm","xgboost","Internal","True"], "paddingInner": 0, "paddingOuter": 0.1}, "axis": {"orient": "top", "title": "MSE, xgboost−prediction, r = 50%"}},
          "y": {"field": "lo", "type": "quantitative", "title": null, "scale": {"domain": [3.6, 259.9], "nice": false, "zero": false},
                "axis": {"orient": "left", "values": [25,75,125,175,225], "labels": false, "ticks": false, "domain": false, "grid": true, "gridWidth": 1, "minExtent": 0, "maxExtent": 0}},
          "y2": {"field": "hi"}}},
        {"data": {"name": "boxes"}, "transform": [{"filter": "datum.panel === 'm50'"}],
         "mark": {"type": "bar", "fill": "#FFFFFF", "stroke": "#333333", "strokeWidth": 1.8, "width": {"band": 0.75}},
         "encoding": {
          "x": {"field": "method", "type": "nominal", "title": null, "scale": {"type": "band", "domain": ["missForest","mice_pmm","mice_norm","mice_rf","gbm","xgboost","Internal","True"], "paddingInner": 0, "paddingOuter": 0.1}, "axis": {"orient": "bottom", "labelOverlap": false}},
          "y": {"field": "q1", "type": "quantitative", "title": null, "scale": {"domain": [3.6, 259.9], "nice": false, "zero": false},
                "axis": {"orient": "left", "minExtent": 60, "labelOverlap": false, "labelSeparation": -30, "values": [50,100,150,200,250], "format": "d", "grid": true, "gridWidth": 2}},
          "y2": {"field": "q3"}}},
        {"data": {"name": "boxes"}, "transform": [{"filter": "datum.panel === 'm50'"}],
         "mark": {"type": "tick", "color": "#333333", "thickness": 3.5, "size": 39.6, "opacity": 1},
         "encoding": {
          "x": {"field": "method", "type": "nominal", "axis": null, "scale": {"type": "band", "domain": ["missForest","mice_pmm","mice_norm","mice_rf","gbm","xgboost","Internal","True"], "paddingInner": 0, "paddingOuter": 0.1}},
          "y": {"field": "med", "type": "quantitative", "title": null, "axis": null, "scale": {"domain": [3.6, 259.9], "nice": false, "zero": false}}}},
        {"data": {"name": "outliers"}, "transform": [{"filter": "datum.panel === 'm50'"}],
         "mark": {"type": "circle", "size": 62, "color": "#333333", "opacity": 1},
         "encoding": {
          "x": {"field": "method", "type": "nominal", "axis": null, "scale": {"type": "band", "domain": ["missForest","mice_pmm","mice_norm","mice_rf","gbm","xgboost","Internal","True"], "paddingInner": 0, "paddingOuter": 0.1}},
          "y": {"field": "value", "type": "quantitative", "title": null, "axis": null, "scale": {"domain": [3.6, 259.9], "nice": false, "zero": false}}}},
        {"data": {"values": [{"method": "Internal"}]},
         "mark": {"type": "rule", "color": "#FF0000", "strokeWidth": 2, "strokeDash": [2, 6.3]},
         "encoding": {
          "x": {"field": "method", "type": "nominal", "axis": null, "bandPosition": 1, "scale": {"type": "band", "domain": ["missForest","mice_pmm","mice_norm","mice_rf","gbm","xgboost","Internal","True"], "paddingInner": 0, "paddingOuter": 0.1}}}}
       ]}
    ]}
  ],
  "config": {
    "font": "Liberation Sans",
    "view": {"fill": "#EBEBEB", "stroke": null},
    "axisBottom": {"labelAngle": -15, "labelAlign": "right", "labelBaseline": "top", "labelFontSize": 16.5, "labelColor": "#4D4D4D", "labelPadding": 4, "labelOverlap": false, "labelFlush": false, "labelBound": false, "tickSize": 4.5, "tickWidth": 1.5, "tickColor": "#333333", "domain": false, "grid": true, "gridColor": "#FFFFFF", "gridWidth": 2, "bandPosition": 0.5, "minExtent": 48},
    "axisTop": {"labels": false, "ticks": false, "grid": false, "domain": true, "domainColor": "#D9D9D9", "domainWidth": 42, "offset": 21, "minExtent": 21, "titlePadding": -21, "titleBaseline": "middle", "titleFontSize": 26.5, "titleFontWeight": "normal", "titleColor": "#1A1A1A", "titleFont": "Liberation Sans"},
    "axisLeft": {"labelFontSize": 16.5, "labelColor": "#4D4D4D", "labelPadding": 5, "tickSize": 4.5, "tickWidth": 1.5, "tickColor": "#333333", "domain": false, "gridColor": "#FFFFFF", "labelOverlap": false, "labelFlush": false}
  }
}
